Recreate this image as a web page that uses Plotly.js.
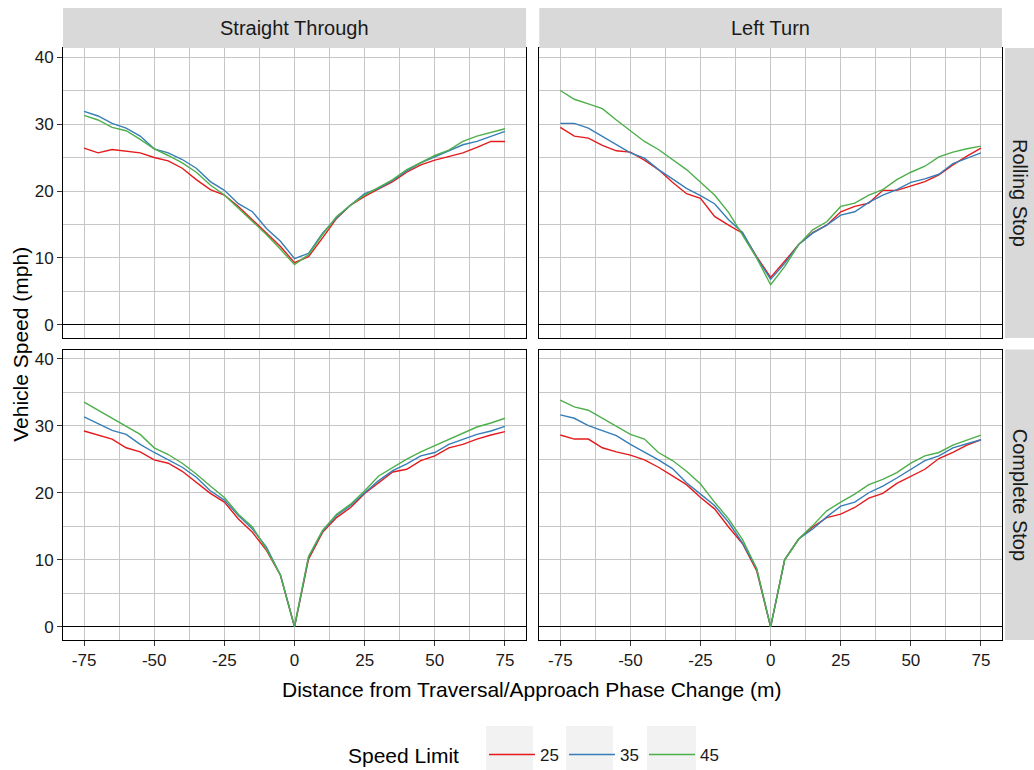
<!DOCTYPE html>
<html>
<head>
<meta charset="utf-8">
<script src="https://cdn.plot.ly/plotly-3.0.1.min.js"></script>
<style>html,body{margin:0;padding:0;background:#fff;}#chart{width:1034px;height:770px;}</style>
</head>
<body>
<div id="chart"></div>
<script>
// ---- data ----
const distance = [-75,-70,-65,-60,-55,-50,-45,-40,-35,-30,-25,-20,-15,-10,-5,0,5,10,15,20,25,30,35,40,45,50,55,60,65,70,75];
const speedLimits = ['25','35','45'];
const columns = ['Straight Through','Left Turn'];
const rows = ['Rolling Stop','Complete Stop'];

const stRolling25 = [26.4,25.7,26.2,26.0,25.7,25.0,24.5,23.4,21.7,20.2,19.4,17.7,15.7,13.6,11.7,9.3,10.2,13.0,15.9,17.9,19.2,20.3,21.4,22.8,23.9,24.6,25.1,25.7,26.5,27.4,27.4];
const stRolling35 = [31.9,31.2,30.1,29.4,28.2,26.3,25.7,24.7,23.4,21.4,20.1,18.1,16.9,14.4,12.5,9.9,10.7,13.7,16.0,17.9,19.6,20.4,21.6,23.0,24.2,25.1,25.9,26.9,27.4,28.2,28.9];
const stRolling45 = [31.3,30.6,29.5,29.0,27.7,26.3,25.3,24.2,22.8,20.9,19.4,17.4,15.4,13.5,11.3,9.0,10.5,13.5,16.2,17.9,19.4,20.6,21.7,23.2,24.3,25.3,26.1,27.4,28.2,28.7,29.3];

const ltRolling25 = [29.5,28.2,27.9,26.8,26.0,25.8,24.6,23.2,21.3,19.6,18.9,16.2,14.9,13.7,10.2,7.1,9.5,12.0,13.8,14.9,16.9,17.7,18.2,20.1,20.1,20.7,21.4,22.4,23.9,25.2,26.4];
const ltRolling35 = [30.1,30.1,29.4,28.2,26.9,25.7,24.9,23.2,21.8,20.4,19.3,18.1,15.7,13.8,10.1,6.8,9.2,12.0,13.7,14.9,16.4,16.9,18.3,19.4,20.2,21.3,21.8,22.5,24.1,24.9,25.7];
const ltRolling45 = [35.0,33.7,33.0,32.3,30.6,29.0,27.4,26.2,24.7,23.2,21.3,19.4,16.8,13.5,10.0,6.0,8.7,12.0,14.2,15.4,17.7,18.2,19.4,20.2,21.7,22.8,23.7,25.1,25.8,26.3,26.7];

const stComplete25 = [29.2,28.6,28.0,26.7,26.1,24.9,24.4,23.2,21.5,19.9,18.6,16.1,14.1,11.4,7.7,0,10.1,14.1,16.3,17.8,19.9,21.5,23.1,23.5,24.8,25.5,26.7,27.2,28.0,28.6,29.1];
const stComplete35 = [31.3,30.3,29.3,28.7,27.2,26.0,24.9,23.8,22.3,20.3,18.9,16.6,14.6,11.9,7.7,0,10.4,14.3,16.6,18.1,20.0,21.8,23.3,24.3,25.5,26.0,27.2,28.0,28.7,29.2,29.9];
const stComplete45 = [33.5,32.3,31.2,30.0,28.7,26.7,25.7,24.4,22.8,21.0,19.3,16.8,14.9,11.6,7.7,0.1,10.5,14.4,16.8,18.3,20.3,22.5,23.8,25.0,26.1,27.0,28.0,28.8,29.8,30.4,31.1];

const ltComplete25 = [28.6,28.0,28.0,26.7,26.1,25.6,24.9,23.8,22.5,21.2,19.3,17.6,14.9,12.4,8.4,0,10.0,13.1,14.9,16.3,16.8,17.8,19.2,19.9,21.4,22.4,23.5,25.1,26.0,27.1,27.9];
const ltComplete35 = [31.6,31.1,30.0,29.2,28.5,27.2,26.1,24.9,23.6,21.5,19.8,18.1,15.6,12.5,8.7,0,10.0,13.1,14.6,16.4,18.0,18.6,20.0,21.0,22.2,23.5,24.8,25.5,26.7,27.3,27.9];
const ltComplete45 = [33.8,32.8,32.3,31.1,30.0,28.7,28.0,26.0,24.8,23.2,21.3,18.6,16.1,13.0,8.7,0,10.0,13.1,15.1,17.3,18.6,19.8,21.2,22.0,23.0,24.4,25.5,26.0,27.1,27.9,28.6];

const xTickVals = [-75,-50,-25,0,25,50,75];
const xTickText = ['-75','-50','-25','0','25','50','75'];
const yTickVals = [0,10,20,30,40];
const yTickText = ['0','10','20','30','40'];

// ---- styling ----
const colors = {'25':'#e41a1c','35':'#377eb8','45':'#4daf4a'};
const FONT = '"Liberation Sans", Arial, Helvetica, sans-serif';
const TXT = '#1a1a1a';

const panels = [
  {xa:'x3', ya:'y3', series:[stRolling25, stRolling35, stRolling45], legend:true},
  {xa:'x4', ya:'y4', series:[ltRolling25, ltRolling35, ltRolling45], legend:false},
  {xa:'x',  ya:'y',  series:[stComplete25, stComplete35, stComplete45], legend:false},
  {xa:'x2', ya:'y2', series:[ltComplete25, ltComplete35, ltComplete45], legend:false}
];

const traces = [];
panels.forEach(p => {
  p.series.forEach((vals, i) => {
    const sl = speedLimits[i];
    traces.push({
      type:'scatter', mode:'lines', x: distance, y: vals,
      xaxis:p.xa, yaxis:p.ya, name: sl, legendgroup: sl,
      showlegend: p.legend,
      line:{color: colors[sl], width:1.4},
      hoverinfo:'x+y+name'
    });
  });
});

const XR = [-82.5, 82.5];
const YR = [-1.95, 41.35];
const LD = [0, 0.4931], RD = [0.5072, 1];
const TD = [0.5101, 1], BD = [0, 0.4907];
const GRID = '#c6c6c6';

function xax(domain, anchor, showLabels){
  return {
    domain, anchor, range: XR, tickvals: xTickVals, ticktext: xTickText,
    showticklabels: showLabels, ticks: showLabels ? 'outside' : '', ticklen: 5, tickwidth: 1, tickcolor:'#333',
    showgrid:true, gridcolor: GRID, gridwidth:1,
    minor:{dtick:12.5, tick0:0, showgrid:true, gridcolor:GRID, gridwidth:1, ticks:''},
    zeroline:false, showline:true, mirror:true, linecolor:'#000', linewidth:1,
    tickfont:{family:FONT, size:17, color:TXT}, fixedrange:true
  };
}
function yax(domain, anchor, showLabels){
  return {
    domain, anchor, range: YR, tickvals: yTickVals, ticktext: yTickText,
    showticklabels: showLabels, ticks: showLabels ? 'outside' : '', ticklen: 5, tickwidth: 1, tickcolor:'#333',
    showgrid:true, gridcolor: GRID, gridwidth:1,
    minor:{dtick:5, tick0:0, showgrid:true, gridcolor:GRID, gridwidth:1, ticks:''},
    zeroline:true, zerolinecolor:'#000', zerolinewidth:1,
    showline:true, mirror:true, linecolor:'#000', linewidth:1,
    tickfont:{family:FONT, size:17, color:TXT}, fixedrange:true
  };
}

const STRIP = '#d9d9d9';
const KEYBG = '#f2f2f2';
function px2x(p){ return (p - 63) / 939; }
function py2y(p){ return (640 - p) / 592; }
const shapes = [
  {type:'rect', xref:'paper', yref:'paper', x0:LD[0], x1:LD[1], y0:1.0, y1:1.0676, fillcolor:STRIP, line:{width:0}},
  {type:'rect', xref:'paper', yref:'paper', x0:RD[0], x1:RD[1], y0:1.0, y1:1.0676, fillcolor:STRIP, line:{width:0}},
  {type:'rect', xref:'paper', yref:'paper', x0:1.0032, x1:1.06, y0:TD[0], y1:TD[1], fillcolor:STRIP, line:{width:0}},
  {type:'rect', xref:'paper', yref:'paper', x0:1.0032, x1:1.06, y0:BD[0], y1:BD[1], fillcolor:STRIP, line:{width:0}},
  {type:'rect', xref:'paper', yref:'paper', x0:px2x(486), x1:px2x(533), y0:py2y(771), y1:py2y(726), fillcolor:KEYBG, line:{width:0}},
  {type:'rect', xref:'paper', yref:'paper', x0:px2x(566), x1:px2x(613), y0:py2y(771), y1:py2y(726), fillcolor:KEYBG, line:{width:0}},
  {type:'rect', xref:'paper', yref:'paper', x0:px2x(647), x1:px2x(696), y0:py2y(771), y1:py2y(726), fillcolor:KEYBG, line:{width:0}}
];

const annotations = [
  {text:columns[0], xref:'paper', yref:'paper', x:(LD[0]+LD[1])/2, y:1.0338, showarrow:false, xanchor:'center', yanchor:'middle', font:{family:FONT, size:20, color:TXT}},
  {text:columns[1], xref:'paper', yref:'paper', x:(RD[0]+RD[1])/2, y:1.0338, showarrow:false, xanchor:'center', yanchor:'middle', font:{family:FONT, size:20, color:TXT}},
  {text:rows[0], xref:'paper', yref:'paper', x:1.0192, y:(TD[0]+TD[1])/2, textangle:90, showarrow:false, xanchor:'center', yanchor:'middle', font:{family:FONT, size:20, color:TXT}},
  {text:rows[1], xref:'paper', yref:'paper', x:1.0192, y:(BD[0]+BD[1])/2, textangle:90, showarrow:false, xanchor:'center', yanchor:'middle', font:{family:FONT, size:20, color:TXT}},
  {text:'Vehicle Speed (mph)', xref:'paper', yref:'paper', x:-0.046, y:0.5, textangle:-90, showarrow:false, xanchor:'center', yanchor:'middle', font:{family:FONT, size:21, color:'#000'}},
  {text:'Distance from Traversal/Approach Phase Change (m)', xref:'paper', yref:'paper', x:0.4995, y:py2y(689), showarrow:false, xanchor:'center', yanchor:'middle', font:{family:FONT, size:21, color:'#000'}},
  {text:'Speed Limit', xref:'paper', yref:'paper', x:px2x(346), y:py2y(755), showarrow:false, xanchor:'left', yanchor:'middle', font:{family:FONT, size:21, color:'#000'}}
];

const layout = {
  width:1034, height:770,
  margin:{l:63, r:32, t:48, b:130, pad:0, autoexpand:false},
  paper_bgcolor:'#fff', plot_bgcolor:'#fff',
  font:{family:FONT, color:TXT},
  showlegend:true,
  legend:{
    orientation:'h', x:px2x(484), xanchor:'left', y:py2y(755), yanchor:'middle',
    font:{family:FONT, size:17, color:TXT},
    bgcolor:'rgba(0,0,0,0)', entrywidth:19, entrywidthmode:'pixels', itemwidth:46
  },
  xaxis: xax(LD, 'y', true),
  yaxis: yax(BD, 'x', true),
  xaxis2: xax(RD, 'y2', true),
  yaxis2: yax(BD, 'x2', false),
  xaxis3: xax(LD, 'y3', false),
  yaxis3: yax(TD, 'x3', true),
  xaxis4: xax(RD, 'y4', false),
  yaxis4: yax(TD, 'x4', false),
  shapes, annotations
};

Plotly.newPlot('chart', traces, layout, {displayModeBar:false, staticPlot:true});
</script>
</body>
</html>
